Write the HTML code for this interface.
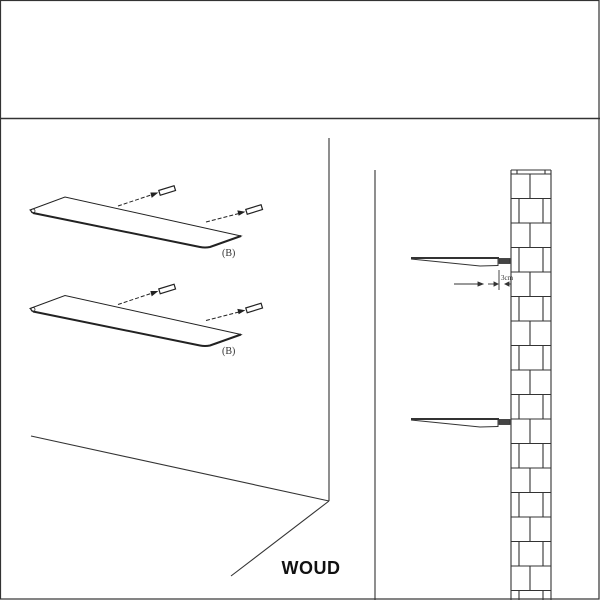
<!DOCTYPE html>
<html><head><meta charset="utf-8"><style>html,body{margin:0;padding:0;background:#fff}svg{display:block}</style></head>
<body>
<svg width="600" height="600" viewBox="0 0 600 600" xmlns="http://www.w3.org/2000/svg">
<rect x="0.5" y="0.5" width="598.5" height="598.5" fill="#fff" stroke="#333" stroke-width="1.2"/>
<line x1="0" y1="118.5" x2="600" y2="118.5" stroke="#333" stroke-width="1.5"/>
<!-- room corner -->
<g stroke="#333" stroke-width="1.1" fill="none">
<line x1="329" y1="138" x2="329" y2="501"/>
<line x1="31" y1="436" x2="329" y2="501"/>
<line x1="329" y1="501" x2="231" y2="576"/>
<line x1="375" y1="170" x2="375" y2="600"/>
</g>
<text x="311" y="574" font-family="Liberation Sans, sans-serif" font-weight="bold" font-size="18" text-anchor="middle" fill="#111" letter-spacing="0.5">WOUD</text>
<!-- shelves -->
<g id="s1" stroke="#222" fill="none">
<path d="M33,213 L30,210 L65,197 L241,236 L214,246" stroke-width="1"/>
<path d="M33,213 L200,247 Q205,248 210,247 L241,236" stroke-width="2"/>
<circle cx="33" cy="211" r="2" stroke-width="0.8"/>
<line x1="118" y1="206" x2="154" y2="194" stroke-dasharray="4,2" stroke-width="1"/>
<path d="M151,193 L157,193 L152,197 Z" fill="#222"/>
<rect x="159" y="188" width="16" height="5" transform="rotate(-17 167 190)" stroke-width="1.2"/>
<line x1="206" y1="222" x2="241" y2="213" stroke-dasharray="4,2" stroke-width="1"/>
<path d="M238,211 L244,212 L239,215 Z" fill="#222"/>
<rect x="246" y="207" width="16" height="5" transform="rotate(-17 254 209)" stroke-width="1.2"/>
</g>
<text x="222" y="256" font-family="Liberation Serif, serif" font-size="10" fill="#333">(B)</text>
<use href="#s1" transform="translate(0,98.5)"/>
<text x="222" y="354" font-family="Liberation Serif, serif" font-size="10" fill="#333">(B)</text>
<!-- wall -->
<g stroke="#333" stroke-width="1.1" fill="none">
<line x1="511" y1="170" x2="511" y2="600"/>
<line x1="551" y1="170" x2="551" y2="600"/>
<line x1="511" y1="170" x2="551" y2="170"/>
<line x1="517" y1="170" x2="517" y2="174"/><line x1="545" y1="170" x2="545" y2="174"/>
<path d="M511,174H551M511,198.5H551M511,223H551M511,247.5H551M511,272H551M511,296.5H551M511,321H551M511,345.5H551M511,370H551M511,394.5H551M511,419H551M511,443.5H551M511,468H551M511,492.5H551M511,517H551M511,541.5H551M511,566H551M511,590.5H551"/>
<path d="M530,174V198.5M530,223V247.5M530,272V296.5M530,321V345.5M530,370V394.5M530,419V443.5M530,468V492.5M530,517V541.5M530,566V590.5"/>
<path d="M519,198.5V223M543,198.5V223M519,247.5V272M543,247.5V272M519,296.5V321M543,296.5V321M519,345.5V370M543,345.5V370M519,394.5V419M543,394.5V419M519,443.5V468M543,443.5V468M519,492.5V517M543,492.5V517M519,541.5V566M543,541.5V566M519,590.5V600M543,590.5V600"/>
</g>
<!-- brackets -->
<g id="b1" stroke="#333" fill="none">
<line x1="411" y1="258" x2="499" y2="258" stroke-width="2"/>
<path d="M411,259 L480,266 L498,265.5" stroke-width="1"/>
<path d="M498,257 V266" stroke-width="1"/>
<rect x="499" y="258.5" width="11" height="5" fill="#444" stroke-width="0.8"/>
</g>
<use href="#b1" transform="translate(0,161)"/>
<!-- dimension -->
<g stroke="#333" stroke-width="0.9" fill="#333">
<line x1="454" y1="284" x2="478" y2="284"/>
<path d="M478,282 L483,284 L478,286 Z"/>
<line x1="488" y1="284" x2="496" y2="284"/>
<path d="M494,282 L498,284 L494,286 Z"/>
<line x1="499" y1="270" x2="499" y2="290"/>
<line x1="505" y1="284" x2="511" y2="284"/>
<path d="M509,282 L505,284 L509,286 Z"/>
</g>
<text x="501" y="280" font-family="Liberation Serif, serif" font-size="7" fill="#333">3cm</text>
</svg>
</body></html>
